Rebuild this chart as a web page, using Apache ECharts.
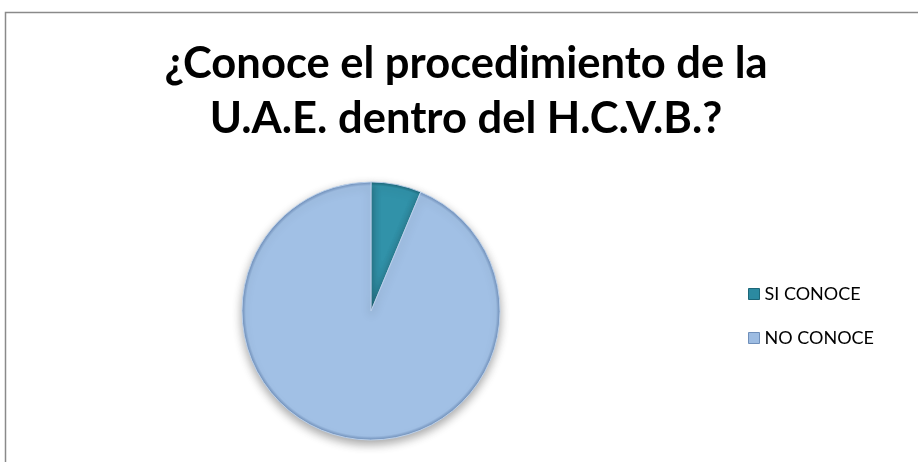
<!DOCTYPE html>
<html>
<head>
<meta charset="utf-8">
<script src="https://cdn.jsdelivr.net/npm/echarts@6/dist/echarts.min.js"></script>
<style>
  html, body { margin: 0; padding: 0; background: #ffffff; }
  #chart { width: 918px; height: 462px; }
</style>
</head>
<body>
<div id="chart"></div>
<script>
// Survey answers (percent of respondents)
const categories = ['SI CONOCE', 'NO CONOCE'];
const values = [6.3, 93.7];
const titleText = '¿Conoce el procedimiento de la\nU.A.E. dentro del H.C.V.B.?';

const PIE_CX = 371, PIE_CY = 311, PIE_R = 129;

// Bevelled look: lighter face, darker rim
const palette = [
  { inner: '#3192A9', outer: '#1C6678', legend: '#2B8AA1' },
  { inner: '#A1C0E5', outer: '#6F8FBA', legend: '#9DBCE2' }
];

function faceGradient(p) {
  return new echarts.graphic.RadialGradient(PIE_CX, PIE_CY, PIE_R, [
    { offset: 0, color: p.inner },
    { offset: 0.9, color: p.inner },
    { offset: 0.97, color: p.inner },
    { offset: 1, color: p.outer }
  ], true);
}

const chart = echarts.init(document.getElementById('chart'), null, { renderer: 'canvas' });

chart.setOption({
  backgroundColor: '#ffffff',
  animation: false,
  title: {
    text: titleText,
    left: 461,
    textAlign: 'center',
    top: 31,
    textStyle: {
      fontFamily: 'Lato',
      fontWeight: 'bold',
      fontSize: 43.5,
      lineHeight: 55,
      color: '#000000'
    }
  },
  legend: {
    orient: 'vertical',
    left: 743,
    top: 280,
    itemWidth: 11,
    itemHeight: 11,
    itemGap: 26,
    icon: 'rect',
    textStyle: {
      fontFamily: 'Lato',
      fontSize: 18,
      color: '#000000'
    },
    data: categories.map((c, i) => ({
      name: c,
      itemStyle: { color: palette[i].legend, borderColor: palette[i].outer, borderWidth: 1 }
    }))
  },
  graphic: [
    {
      type: 'rect',
      shape: { x: 5.5, y: 12.5, width: 940, height: 480 },
      style: { fill: 'none', stroke: '#8a8a8a', lineWidth: 1.5 },
      silent: true
    }
  ],
  series: [
    {
      type: 'pie',
      center: [PIE_CX, PIE_CY],
      radius: PIE_R,
      startAngle: 90,
      clockwise: true,
      label: { show: false },
      labelLine: { show: false },
      emphasis: { disabled: true },
      data: categories.map((c, i) => ({
        name: c,
        value: values[i],
        itemStyle: {
          color: faceGradient(palette[i]),
          borderColor: 'rgba(190,212,238,0.9)',
          borderWidth: 1,
          shadowBlur: 10,
          shadowOffsetY: 4,
          shadowColor: 'rgba(0,0,0,0.35)'
        }
      }))
    }
  ]
});
</script>
</body>
</html>
